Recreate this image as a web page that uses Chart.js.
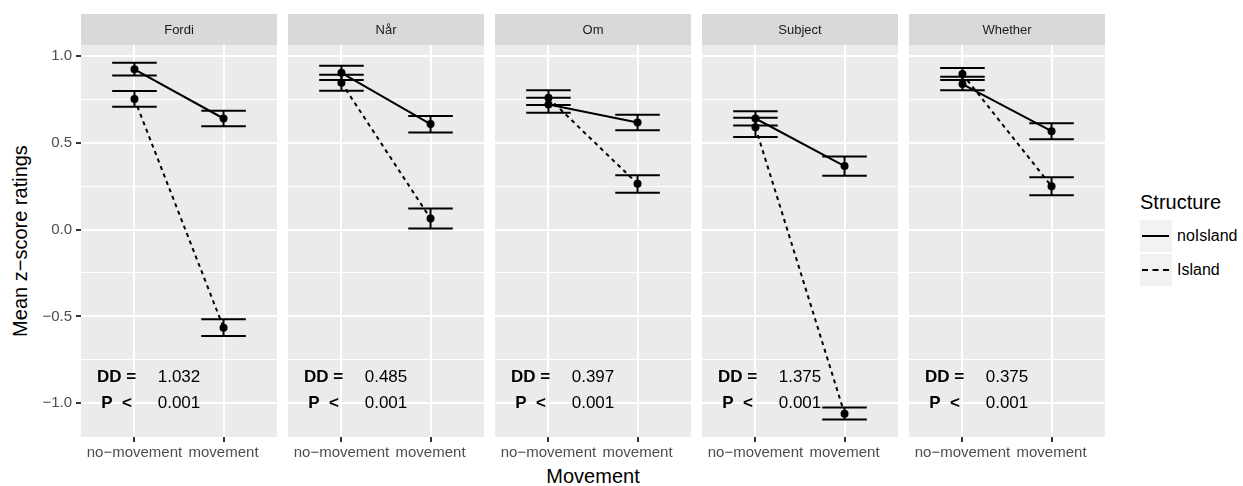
<!DOCTYPE html>
<html>
<head>
<meta charset="utf-8">
<script src="https://cdn.jsdelivr.net/npm/chart.js"></script>
<style>
  html, body { margin: 0; padding: 0; background: #ffffff; }
  body { width: 1243px; height: 486px; position: relative; overflow: hidden; font-family: "Liberation Sans", Arial, sans-serif; }
  canvas { position: absolute; top: 0; }
  .txt { position: absolute; white-space: nowrap; color: #000; }
  .key { position: absolute; width: 32px; height: 32px; background: #F2F2F2; }
  .key span { position: absolute; left: 2px; right: 3px; top: 15px; height: 0; border-top: 2px solid #000; }
  .key span.dash { border-top: 2px dashed #000; }
</style>
</head>
<body>
<div class="txt" id="ytitle" style="font-size:20px; left:20px; top:241px; transform: translate(-50%,-50%) rotate(-90deg);">Mean z−score ratings</div>
<div class="txt" id="xtitle" style="font-size:20px; left:593px; top:465px; transform: translateX(-50%);">Movement</div>
<div class="txt" style="font-size:20px; left:1140px; top:191px;">Structure</div>
<div class="key" style="left:1140px; top:220px;"><span></span></div>
<div class="txt" style="font-size:16px; left:1177px; top:227px;">noIsland</div>
<div class="key" style="left:1140px; top:254px;"><span class="dash"></span></div>
<div class="txt" style="font-size:16px; left:1177px; top:261px;">Island</div>
<script>
// ---------- data ----------
const panels = ['Fordi', 'Når', 'Om', 'Subject', 'Whether'];
const categories = ['no−movement', 'movement'];
const seriesNames = ['noIsland', 'Island'];

const noIslandMean = [[0.922, 0.639], [0.902, 0.607], [0.720, 0.616], [0.639, 0.365], [0.837, 0.566]];
const noIslandLow  = [[0.887, 0.595], [0.860, 0.559], [0.672, 0.572], [0.599, 0.309], [0.801, 0.520]];
const noIslandHigh = [[0.960, 0.683], [0.942, 0.653], [0.758, 0.660], [0.681, 0.420], [0.879, 0.612]];

const islandMean = [[0.751, -0.565], [0.845, 0.063], [0.758, 0.263], [0.588, -1.060], [0.895, 0.249]];
const islandLow  = [[0.706, -0.613], [0.798, 0.006], [0.716, 0.211], [0.532, -1.093], [0.860, 0.198]];
const islandHigh = [[0.797, -0.517], [0.891, 0.121], [0.802, 0.313], [0.643, -1.024], [0.929, 0.301]];

const ddValues = ['1.032', '0.485', '0.397', '1.375', '0.375'];
const pValues  = ['0.001', '0.001', '0.001', '0.001', '0.001'];

const yTickValues = [-1, -0.5, 0, 0.5, 1];
const yTickLabels = ['−1.0', '−0.5', '0.0', '0.5', '1.0'];
const yMinorValues = [-0.75, -0.25, 0.25, 0.75];
const yRange = [-1.194, 1.062];
const xRange = [0.4, 2.6];

// ---------- layout ----------
const panelLeft = [81, 288, 495, 702, 909];
const panelWidth = 196;
const yAxisW = 45;
const padRight = 6;
const FONT = '"Liberation Sans", Arial, sans-serif';

function pts(vals) { return vals.map((v, i) => ({ x: i + 1, y: v })); }
function errData(lo, hi) {
  const d = [];
  for (let c = 0; c < lo.length; c++) {
    const x = c + 1;
    d.push({ x: x - 0.25, y: hi[c] }, { x: x + 0.25, y: hi[c] }, { x: x, y: null });
    d.push({ x: x - 0.25, y: lo[c] }, { x: x + 0.25, y: lo[c] }, { x: x, y: null });
    d.push({ x: x, y: lo[c] }, { x: x, y: hi[c] }, { x: x, y: null });
  }
  return d;
}
const isMajor = v => yTickValues.some(t => Math.abs(t - v) < 1e-9);

const panelPlugin = {
  id: 'panelDecor',
  beforeDraw(chart, args, opts) {
    const { ctx, chartArea: a } = chart;
    ctx.save();
    ctx.fillStyle = '#EBEBEB';
    ctx.fillRect(a.left, a.top, a.right - a.left, a.bottom - a.top);
    ctx.fillStyle = '#D9D9D9';
    ctx.fillRect(a.left, 14, a.right - a.left, 31);
    ctx.fillStyle = '#1A1A1A';
    ctx.font = '13px ' + FONT;
    ctx.textAlign = 'center';
    ctx.textBaseline = 'middle';
    ctx.fillText(opts.strip, (a.left + a.right) / 2, 30);
    ctx.restore();
  },
  afterDatasetsDraw(chart, args, opts) {
    const { ctx, scales: { x, y } } = chart;
    ctx.save();
    ctx.fillStyle = '#000';
    ctx.textAlign = 'center';
    ctx.textBaseline = 'middle';
    ctx.font = 'bold 17px ' + FONT;
    ctx.fillText('DD =', x.getPixelForValue(0.8), y.getPixelForValue(-0.85));
    ctx.fillText('P  <', x.getPixelForValue(0.8), y.getPixelForValue(-1.0));
    ctx.font = '17px ' + FONT;
    ctx.fillText(opts.dd, x.getPixelForValue(1.5), y.getPixelForValue(-0.85));
    ctx.fillText(opts.p, x.getPixelForValue(1.5), y.getPixelForValue(-1.0));
    ctx.restore();
  }
};

panels.forEach((name, i) => {
  const cv = document.createElement('canvas');
  const W = yAxisW + panelWidth + padRight;
  cv.width = W; cv.height = 486;
  cv.style.left = (panelLeft[i] - yAxisW) + 'px';
  cv.style.width = W + 'px'; cv.style.height = '486px';
  document.body.appendChild(cv);
  const first = i === 0;

  new Chart(cv, {
    type: 'line',
    data: {
      datasets: [
        { label: seriesNames[0], data: pts(noIslandMean[i]), borderColor: '#000', borderWidth: 2,
          pointRadius: 4, pointBackgroundColor: '#000', pointBorderWidth: 0, pointHoverRadius: 4 },
        { label: seriesNames[1], data: pts(islandMean[i]), borderColor: '#000', borderWidth: 2, borderDash: [4, 4],
          pointRadius: 4, pointBackgroundColor: '#000', pointBorderWidth: 0, pointHoverRadius: 4 },
        { label: 'err ' + seriesNames[0], data: errData(noIslandLow[i], noIslandHigh[i]), borderColor: '#000',
          borderWidth: 2, pointRadius: 0, spanGaps: false },
        { label: 'err ' + seriesNames[1], data: errData(islandLow[i], islandHigh[i]), borderColor: '#000',
          borderWidth: 2, pointRadius: 0, spanGaps: false }
      ]
    },
    options: {
      responsive: false,
      devicePixelRatio: 1,
      animation: false,
      events: [],
      layout: { padding: { top: 45, right: padRight, bottom: 19, left: 0 } },
      plugins: {
        legend: { display: false },
        tooltip: { enabled: false },
        panelDecor: { strip: name, dd: ddValues[i], p: pValues[i] }
      },
      scales: {
        x: {
          type: 'linear', min: xRange[0], max: xRange[1],
          afterBuildTicks: s => { s.ticks = categories.map((c, k) => ({ value: k + 1 })); },
          afterFit: s => { s.height = 30; },
          border: { display: false },
          grid: { color: '#FFFFFF', lineWidth: 2, tickColor: '#333333', tickWidth: 2, tickLength: 5, drawTicks: true },
          ticks: { callback: (v, k) => categories[k], color: '#4D4D4D', font: { size: 15, family: FONT },
                   padding: 2, autoSkip: false, maxRotation: 0, minRotation: 0 }
        },
        y: {
          type: 'linear', min: yRange[0], max: yRange[1],
          afterBuildTicks: s => {
            s.ticks = yTickValues.concat(yMinorValues).sort((a, b) => a - b).map(v => ({ value: v }));
          },
          afterFit: s => { s.width = yAxisW; },
          border: { display: false },
          grid: {
            color: '#FFFFFF',
            lineWidth: c => (c.tick && isMajor(c.tick.value)) ? 2 : 1.1,
            tickColor: c => (first && c.tick && isMajor(c.tick.value)) ? '#333333' : 'rgba(0,0,0,0)',
            tickWidth: 2, tickLength: 5, drawTicks: first
          },
          ticks: {
            display: first,
            callback: v => { const k = yTickValues.findIndex(t => Math.abs(t - v) < 1e-9); return k >= 0 ? yTickLabels[k] : ''; },
            color: '#4D4D4D', font: { size: 15, family: FONT }, padding: 4, autoSkip: false
          }
        }
      }
    },
    plugins: [panelPlugin]
  });
});
</script>
</body>
</html>
